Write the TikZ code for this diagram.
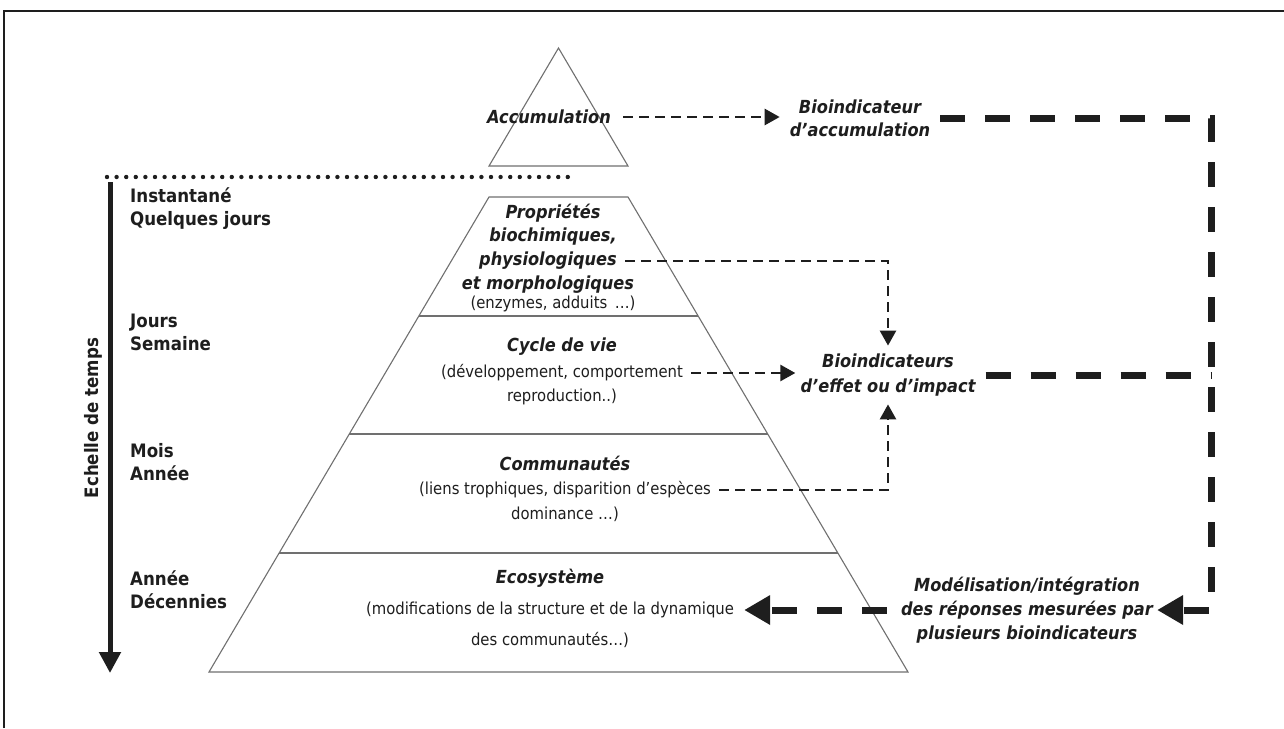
\documentclass[tikz,border=0pt]{standalone}
\usepackage{fontspec}
\setmainfont{DejaVu Sans}[FakeStretch=0.9]
\usetikzlibrary{arrows.meta}
\definecolor{ink}{HTML}{1E1E1E}
\definecolor{pyrline}{HTML}{707070}
\tikzset{
  lbl/.style={font=\fontsize{18.5}{23}\selectfont\bfseries, anchor=west, align=left, inner sep=0pt, text=ink},
  bi/.style={font=\fontsize{18}{24}\selectfont\bfseries\itshape, align=center, inner sep=0pt, text=ink},
  rg/.style={font=\fontsize{16.5}{22}\selectfont, align=center, inner sep=0pt, text=ink},
  pyr/.style={draw=pyrline, line width=1.1pt, line join=miter},
  tdash/.style={draw=ink, line width=2.6pt, dash pattern=on 10pt off 6pt, -{Triangle[length=15pt,width=16pt]}},
  kdash/.style={draw=ink, line width=7pt, dash pattern=on 25pt off 20pt},
  karrow/.style={-{Triangle[length=26pt,width=28pt]}},
}
\begin{document}
\begin{tikzpicture}[x=1pt,y=-1pt]
\useasboundingbox (0,0) rectangle (1284,728);
\fill[white] (0,0) rectangle (1284,728);
% frame (cropped)
\draw[ink, line width=2pt] (4,728) -- (4,11) -- (1284,11);

% top triangle
\draw[pyr] (489,166) -- (558.5,48) -- (628,166) -- cycle;
% pyramid
\draw[pyr] (209,672) -- (489,197) -- (628,197) -- (908,672) -- cycle;
\draw[pyr] (418.9,316) -- (698.1,316);
\draw[pyr] (349.3,434) -- (767.7,434);
\draw[pyr] (279.2,553) -- (837.8,553);

% dotted separator
\draw[ink, line width=4.4pt, line cap=round, dash pattern=on 0pt off 9.6pt] (107,177) -- (572,177);

% time axis
\coordinate (t0) at (110,182);
\coordinate (t1) at (110,673);
\draw[ink, line width=5pt, -{Triangle[length=21pt,width=21pt]}] (t0) -- (t1);
\node[font=\fontsize{18.5}{23}\selectfont\bfseries, text=ink, rotate=90, inner sep=0pt] (ech) at (93,418) {Echelle de temps};

% left labels
\node[lbl] (l1) at (130,209) {Instantané\\Quelques jours};
\node[lbl] (l2) at (130,332) {Jours\\Semaine};
\node[lbl] (l3) at (130,462.5) {Mois\\Année};
\node[lbl] (l4) at (130,589.5) {Année\\Décennies};

% accumulation
\node[bi] (acc) at (549,117) {Accumulation};
\node[bi, font=\fontsize{18}{23}\selectfont\bfseries\itshape] (bioacc) at (860,118) {Bioindicateur\\d’accumulation};

% pyramid level 1
\node[bi] (p1) at (553,213) {Propriétés};
\node[bi] (p2) at (553,237) {biochimiques,};
\node[bi] (phys) at (548,261) {physiologiques};
\node[bi] (p4) at (548,285) {et morphologiques};
\node[rg] (p5) at (553,304) {(enzymes, adduits \,…)};

% level 2
\node[bi] (cyc) at (562,347) {Cycle de vie};
\node[rg] (dev) at (562,373) {(développement, comportement};
\node[rg] (repro) at (562,397) {reproduction..)};

% level 3
\node[bi] (com) at (565,463) {Communautés};
\node[rg] (liens) at (565,490) {(liens trophiques, disparition d’espèces};
\node[rg] (dom) at (565,514) {dominance …)};

% level 4
\node[bi] (eco) at (550,578) {Ecosystème};
\node[rg] (modif) at (550,610) {(modifications de la structure et de la dynamique};
\node[rg] (descom) at (550,640) {des communautés…)};

% right labels
\node[bi, font=\fontsize{18}{25}\selectfont\bfseries\itshape] (eff) at (888,375) {Bioindicateurs\\d’effet ou d’impact};
\node[bi] (model) at (1027,610) {Modélisation/intégration\\des réponses mesurées par\\plusieurs bioindicateurs};

% thin dashed connectors
\draw[tdash, shorten <=12pt, shorten >=10pt] (acc.east) -- (acc.east -| bioacc.west);
\draw[tdash, shorten <=8pt, shorten >=8pt] (phys.east) -| (eff.north);
\draw[tdash, shorten <=8pt, shorten >=5pt] (dev.east) -- (dev.east -| eff.west);
\draw[tdash, shorten <=8pt, shorten >=8pt] (liens.east) -| (eff.south);

% thick dashed connectors
\coordinate (cr1) at (1211,118);
\coordinate (cr2) at (1211,610);
\draw[kdash, karrow, shorten <=10pt, shorten >=4pt] (bioacc.east) -- (cr1) -- (cr2) -- (model.east);
\draw[kdash, shorten <=10pt] (eff.east) -- (eff.east -| cr1);
\draw[kdash, karrow, shorten <=14pt, shorten >=10pt] (model.west) -- (model.west -| modif.east);
\end{tikzpicture}
\end{document}
